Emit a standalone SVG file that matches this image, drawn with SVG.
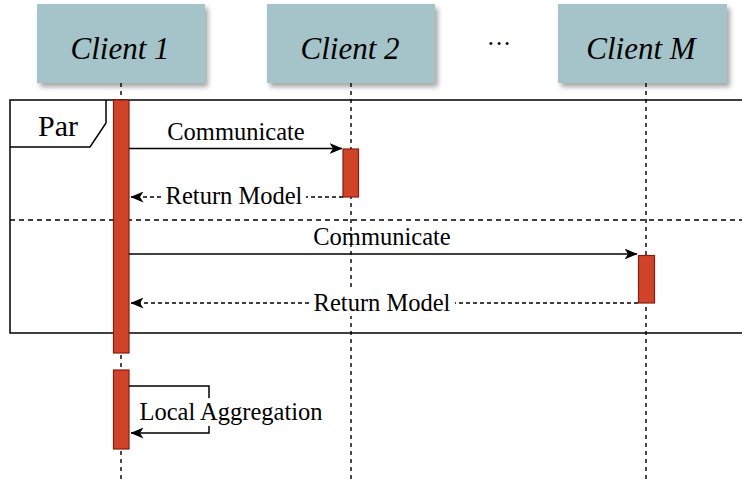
<svg xmlns="http://www.w3.org/2000/svg" width="742" height="482" viewBox="0 0 742 482">
  <defs>
    <filter id="shadow" x="-10%" y="-10%" width="130%" height="140%">
      <feDropShadow dx="3" dy="4" stdDeviation="2.5" flood-color="#000" flood-opacity="0.35"/>
    </filter>
    <marker id="head" viewBox="0 0 13 11" refX="12.5" refY="5.5" markerWidth="13" markerHeight="11" markerUnits="userSpaceOnUse" orient="auto">
      <path d="M0,0 L13,5.5 L0,11 L3.5,5.5 Z" fill="#000"/>
    </marker>
    <style>
      text { font-family: "Liberation Serif", "Times New Roman", Times, "Nimbus Roman", "TeX Gyre Termes", "FreeSerif", "Noto Serif", "DejaVu Serif", serif; fill: #000; }
      .actor { fill: #a4c4c9; filter: url(#shadow); }
      .actor-label { font-style: italic; font-size: 31px; text-anchor: middle; }
      .lifeline { stroke: #000; stroke-width: 1.4; stroke-dasharray: 4 4; fill: none; }
      .bar { fill: #cf4428; stroke: #8a1b10; stroke-width: 1.2; }
      .frame { fill: none; stroke: #000; stroke-width: 1.5; }
      .sep { stroke: #000; stroke-width: 1.5; stroke-dasharray: 5 4; fill: none; }
      .msg { stroke: #000; stroke-width: 1.5; fill: none; marker-end: url(#head); }
      .reply { stroke: #000; stroke-width: 1.3; stroke-dasharray: 4 3; fill: none; marker-end: url(#head); }
      .label { font-size: 24.5px; text-anchor: middle; }
      .mask { fill: #fff; }
    </style>
  </defs>

  <!-- lifelines -->
  <g id="lifelines">
    <line class="lifeline" x1="121" y1="83" x2="121" y2="482"/>
    <line class="lifeline" x1="351" y1="83" x2="351" y2="482"/>
    <line class="lifeline" x1="646" y1="83" x2="646" y2="482"/>
  </g>

  <!-- participants -->
  <g id="client1">
    <rect class="actor" x="37" y="4" width="168" height="79"/>
    <text class="actor-label" x="120" y="59">Client 1</text>
  </g>
  <g id="client2">
    <rect class="actor" x="267" y="4" width="168" height="79"/>
    <text class="actor-label" x="350" y="59">Client 2</text>
  </g>
  <g id="ellipsis">
    <text class="label" x="499" y="52" font-size="20px">···</text>
  </g>
  <g id="clientM">
    <rect class="actor" x="558" y="4" width="169" height="79"/>
    <text class="actor-label" x="641" y="59">Client M</text>
  </g>

  <!-- par combined fragment -->
  <g id="par-frame">
    <rect class="frame" x="10" y="100" width="740" height="233"/>
    <path class="frame" d="M10,147 L90,147 L106,123 L106,100"/>
    <text x="38" y="136" font-size="30px">Par</text>
    <line class="sep" x1="10" y1="220" x2="742" y2="220"/>
  </g>

  <!-- activation bars -->
  <g id="activation-client1">
    <rect class="bar" x="113.5" y="100" width="15.5" height="253"/>
    <rect class="bar" x="113.5" y="370" width="15.5" height="79"/>
  </g>
  <g id="activation-client2">
    <rect class="bar" x="343" y="149" width="15.5" height="48"/>
  </g>
  <g id="activation-clientM">
    <rect class="bar" x="638.5" y="255.5" width="16" height="47.5"/>
  </g>

  <!-- messages -->
  <g id="connectors">
    <line class="msg" x1="129" y1="148.5" x2="342" y2="148.5"/>
    <text class="label" x="236" y="140">Communicate</text>

    <line class="reply" x1="343" y1="197" x2="131" y2="197"/>
    <rect class="mask" x="161" y="184" width="145" height="26"/>
    <text class="label" x="234" y="204">Return Model</text>

    <line class="msg" x1="129" y1="254" x2="637" y2="254"/>
    <text class="label" x="382" y="245">Communicate</text>

    <line class="reply" x1="638" y1="303" x2="131" y2="303"/>
    <rect class="mask" x="309" y="290" width="146" height="26"/>
    <text class="label" x="382" y="311">Return Model</text>

    <path class="msg" d="M129,386 L209,386 L209,433 L131,433"/>
    <rect class="mask" x="135" y="398" width="193" height="28"/>
    <text class="label" x="231" y="420">Local Aggregation</text>
  </g>
</svg>
